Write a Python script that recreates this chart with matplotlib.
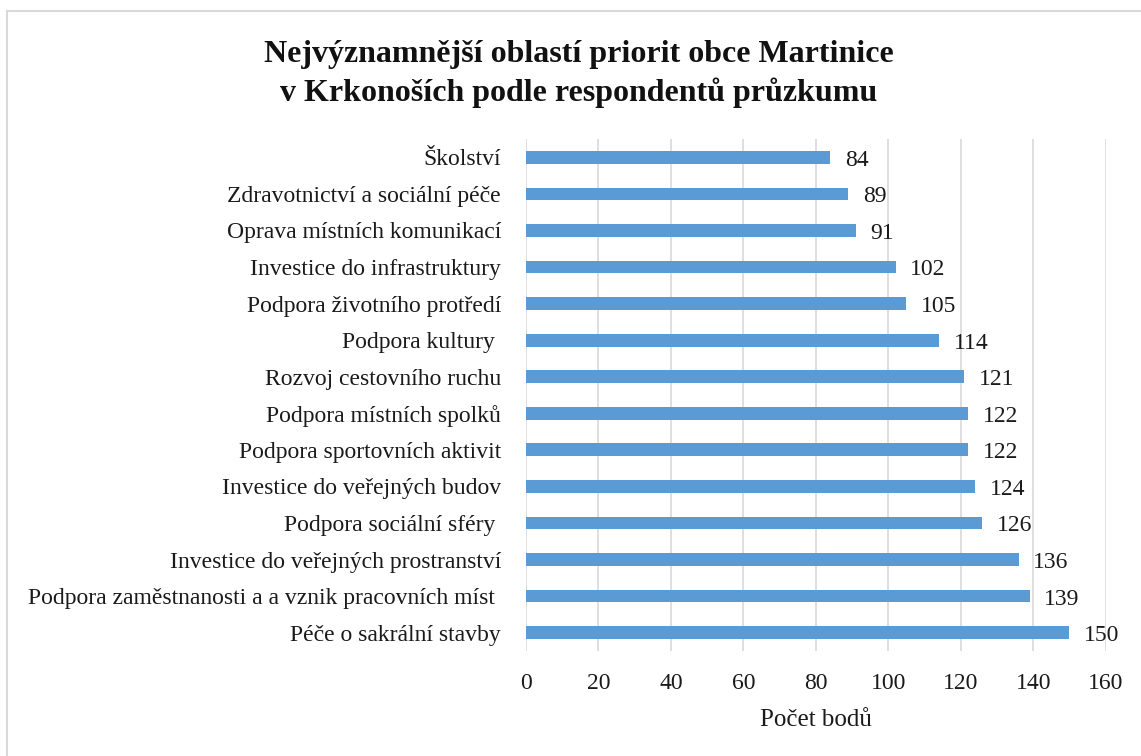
import matplotlib.pyplot as plt
from matplotlib.patches import Rectangle

plt.rcParams["font.family"] = ["Liberation Serif", "DejaVu Serif"]

categories = [
    "Školství",
    "Zdravotnictví a sociální péče",
    "Oprava místních komunikací",
    "Investice do infrastruktury",
    "Podpora životního protředí",
    "Podpora kultury ",
    "Rozvoj cestovního ruchu",
    "Podpora místních spolků",
    "Podpora sportovních aktivit",
    "Investice do veřejných budov",
    "Podpora sociální sféry ",
    "Investice do veřejných prostranství",
    "Podpora zaměstnanosti a a vznik pracovních míst ",
    "Péče o sakrální stavby",
]
values = [84, 89, 91, 102, 105, 114, 121, 122, 122, 124, 126, 136, 139, 150]
x_ticks = [0, 20, 40, 60, 80, 100, 120, 140, 160]

fig = plt.figure(figsize=(11.41, 7.56), dpi=100)
ax = fig.add_axes([0.461, 0.139, 0.508, 0.677])

# outer chart frame
fig.patches.append(Rectangle((0.006, -0.01), 1.0, 0.995, transform=fig.transFigure,
                             fill=False, edgecolor="#D9D9D9", linewidth=1.5))

ypos = list(range(len(categories)))
ax.barh(ypos, values, height=0.35, color="#5B9BD5", zorder=3)

for y, v in zip(ypos, values):
    ax.text(v + 4, y + 0.08, str(v), va="center", ha="left", fontsize=17, color="#1a1a1a")

ax.set_yticks(ypos)
ax.set_yticklabels(categories, fontsize=17, color="#1a1a1a")
ax.set_ylim(len(categories) - 0.5, -0.5)

ax.set_xlim(0, 160)
ax.set_xticks(x_ticks)
ax.set_xticklabels([str(t) for t in x_ticks], fontsize=17, color="#1a1a1a")
ax.tick_params(axis="x", length=0, pad=16)
ax.tick_params(axis="y", length=0, pad=18)
ax.grid(axis="x", color="#D9D9D9", linewidth=1.2, zorder=0)

for s in ax.spines.values():
    s.set_visible(False)

ax.set_xlabel("Počet bodů", fontsize=18, color="#1a1a1a", labelpad=11)

fig.text(0.507, 0.902, "Nejvýznamnější oblastí priorit obce Martinice\nv Krkonoších podle respondentů průzkumu",
         ha="center", va="center", fontsize=23, fontweight="bold", color="#111111",
         linespacing=1.35)

fig.savefig("out.png", dpi=100)
